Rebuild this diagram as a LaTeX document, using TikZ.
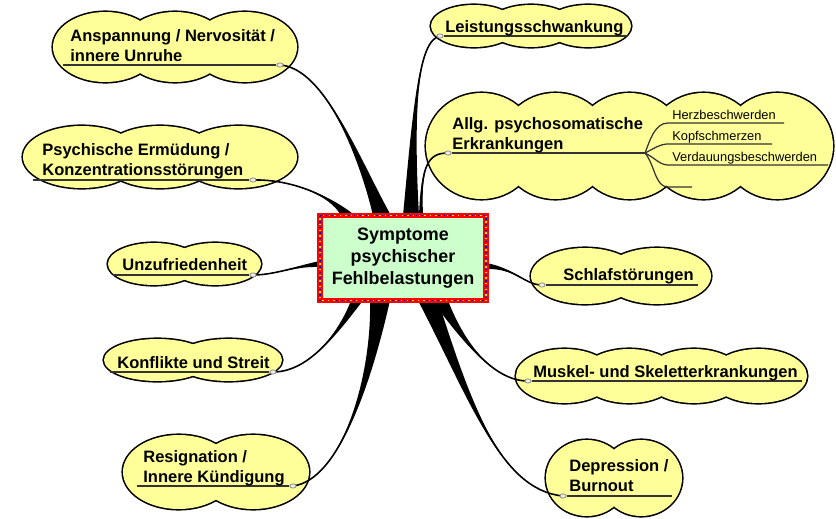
\documentclass[tikz,border=0pt]{standalone}
\usepackage{fontspec}
\setmainfont{Liberation Sans}
\usetikzlibrary{calc,backgrounds,shapes.geometric}
\definecolor{puff}{HTML}{FFFF99}
\definecolor{mint}{HTML}{CCFFCC}
\newcommand\twig[5]{%
	\fill ($(#1)-(#5)$) .. controls (#2) and (#3) .. (#4.center) .. controls (#3) and (#2) .. ($(#1)+(#5)$) -- cycle;
	\draw[line width=0.9pt] (#1) .. controls (#2) and (#3) .. (#4.center);}
\tikzset{
	lbl/.style={font=\fontsize{9.4}{11.3}\selectfont\bfseries,align=left,inner sep=0pt,anchor=base west},
	sublbl/.style={font=\fontsize{7.3}{9}\selectfont,inner sep=0pt,anchor=base west},
	knob/.style={ellipse,draw=gray,fill=gray!15,line width=0.4pt,inner sep=0pt,minimum width=3.6pt,minimum height=2.4pt},
	rule/.style={line width=0.7pt,black!80},
	hub/.style={draw=red,line width=3pt,fill=mint,outer sep=0pt,minimum width=3.32cm,minimum height=1.7cm,align=center,font=\fontsize{10.2}{12.5}\selectfont\bfseries}
}
\begin{document}
\begin{tikzpicture}[x=0.02cm,y=-0.02cm]
	\useasboundingbox (0,0) rectangle (836,518);
	\node[hub] (sym) at (403,258) {Symptome\\psychischer\\Fehlbelastungen};
	\draw[blue!80!black,line width=0.8pt,dash pattern=on 0.8pt off 2.4pt] (sym.north west) rectangle (sym.south east);
	\draw[yellow!90!orange,line width=0.8pt,dash pattern=on 0.8pt off 2.4pt,dash phase=1.6pt] (sym.north west) rectangle (sym.south east);

	\node[lbl] (ansp) at (70,61) {Anspannung / Nervosität /\\innere Unruhe};
	\node[lbl] (leist) at (445,32) {Leistungsschwankung};
	\node[lbl] (allg) at (452,149) {Allg. psychosomatische\\Erkrankungen};
	\node[lbl] (psych) at (42,175) {Psychische Ermüdung /\\Konzentrationsstörungen};
	\node[lbl] (unzu) at (122,270) {Unzufriedenheit};
	\node[lbl] (konf) at (117,368) {Konflikte und Streit};
	\node[lbl] (resig) at (143,482) {Resignation /\\Innere Kündigung};
	\node[lbl] (schlaf) at (563,280) {Schlafstörungen};
	\node[lbl] (musk) at (533,377) {Muskel- und Skeletterkrankungen};
	\node[lbl] (depr) at (569,491) {Depression /\\Burnout};
	\node[sublbl] (herz) at (672,119) {Herzbeschwerden};
	\node[sublbl] (kopf) at (672,140) {Kopfschmerzen};
	\node[sublbl] (verd) at (672,161) {Verdauungsbeschwerden};

	\node[knob] (d-ansp) at (280,65) {};
	\node[knob] (d-leist) at (440,36) {};
	\node[knob] (d-allg) at (448,153) {};
	\node[knob] (d-psych) at (253,180) {};
	\node[knob] (d-unzu) at (253,275) {};
	\node[knob] (d-konf) at (273,372) {};
	\node[knob] (d-resig) at (293,486) {};
	\node[knob] (d-schlaf) at (542,285) {};
	\node[knob] (d-musk) at (528,381) {};
	\node[knob] (d-depr) at (563,496) {};

	\coordinate (u-ansp) at (63,65);
	\coordinate (u-leist) at (628,36);
	\coordinate (fork) at (645,153);
	\coordinate (u-psych) at (33,180);
	\coordinate (u-unzu) at (113,275);
	\coordinate (u-konf) at (110,372);
	\coordinate (u-resig) at (137,486);
	\coordinate (u-schlaf) at (698,285);
	\coordinate (u-musk) at (802,381);
	\coordinate (u-depr) at (672,496);
	\coordinate (h-herz) at (668,123);
	\coordinate (h-kopf) at (668,144);
	\coordinate (h-verd) at (668,165);
	\coordinate (h-leer) at (668,187);
	\coordinate (e-herz) at (784,123);
	\coordinate (e-kopf) at (772,144);
	\coordinate (e-verd) at (828,165);
	\coordinate (e-leer) at (692,187);

	\coordinate (b-ansp) at ($(sym.north)+(-21,0)$);
	\coordinate (b-leist) at ($(sym.north)+(8,0)$);
	\coordinate (b-allg) at ($(sym.north)+(18,0)$);
	\coordinate (b-psych) at ($(sym.north)+(-55,0)$);
	\coordinate (b-unzu) at ($(sym.west)+(0,6)$);
	\coordinate (b-konf) at ($(sym.south)+(-46,0)$);
	\coordinate (b-resig) at ($(sym.south)+(-23,0)$);
	\coordinate (b-schlaf) at ($(sym.east)+(0,8)$);
	\coordinate (b-musk) at ($(sym.south)+(37,0)$);
	\coordinate (b-depr) at ($(sym.south)+(25,0)$);

	\begin{pgfonlayer}{background}
		\foreach \xl/\xr/\cy/\ry/\n in {53/297/47/35/3,431/631/26/21/3,426/833/146/53/5,23/297/157/31/3,108/261/264/21/2,104/282/360/21/2,123/309/472/37/2,531/711/276/28/2,516/807/376/27/4,546/682/478/38/2}{
			\pgfmathsetmacro\dd{(\xr-\xl)/(\n+0.5)}
			\pgfmathsetmacro\rx{0.75*\dd}
			\foreach \i in {1,...,\n}
				\draw[line width=1.8pt] ({\xl+\rx+(\i-1)*\dd},\cy) ellipse [x radius=\rx,y radius=\ry];
			\foreach \i in {1,...,\n}
				\fill[puff] ({\xl+\rx+(\i-1)*\dd},\cy) ellipse [x radius=\rx,y radius=\ry];
		}
		\foreach \a/\b in {d-ansp/u-ansp,d-leist/u-leist,d-allg/fork,d-psych/u-psych,d-unzu/u-unzu,d-konf/u-konf,d-resig/u-resig,d-schlaf/u-schlaf,d-musk/u-musk,d-depr/u-depr}
			\draw[rule] (\a) -- (\b);
		\draw[rule] (fork) .. controls (650,140) and (655,123) .. (h-herz) -- (e-herz);
		\draw[rule] (fork) .. controls (655,148) and (660,144) .. (h-kopf) -- (e-kopf);
		\draw[rule] (fork) .. controls (655,158) and (660,165) .. (h-verd) -- (e-verd);
		\draw[rule] (fork) .. controls (655,165) and (655,187) .. (h-leer) -- (e-leer);
		\twig{b-ansp}{360,160}{325,68}{d-ansp}{9,0}
		\twig{b-leist}{413,110}{418,40}{d-leist}{8,0}
		\twig{b-allg}{421,165}{428,153}{d-allg}{2,0}
		\twig{b-psych}{330,195}{290,179}{d-psych}{7,0}
		\twig{b-unzu}{295,266}{275,275}{d-unzu}{0,3}
		\twig{b-konf}{340,330}{310,372}{d-konf}{6,0}
		\twig{b-resig}{372,380}{340,480}{d-resig}{10,0}
		\twig{b-schlaf}{515,268}{525,285}{d-schlaf}{0,3}
		\twig{b-musk}{465,345}{495,381}{d-musk}{8,0}
		\twig{b-depr}{470,400}{500,490}{d-depr}{10,0}
	\end{pgfonlayer}
\end{tikzpicture}
\end{document}
